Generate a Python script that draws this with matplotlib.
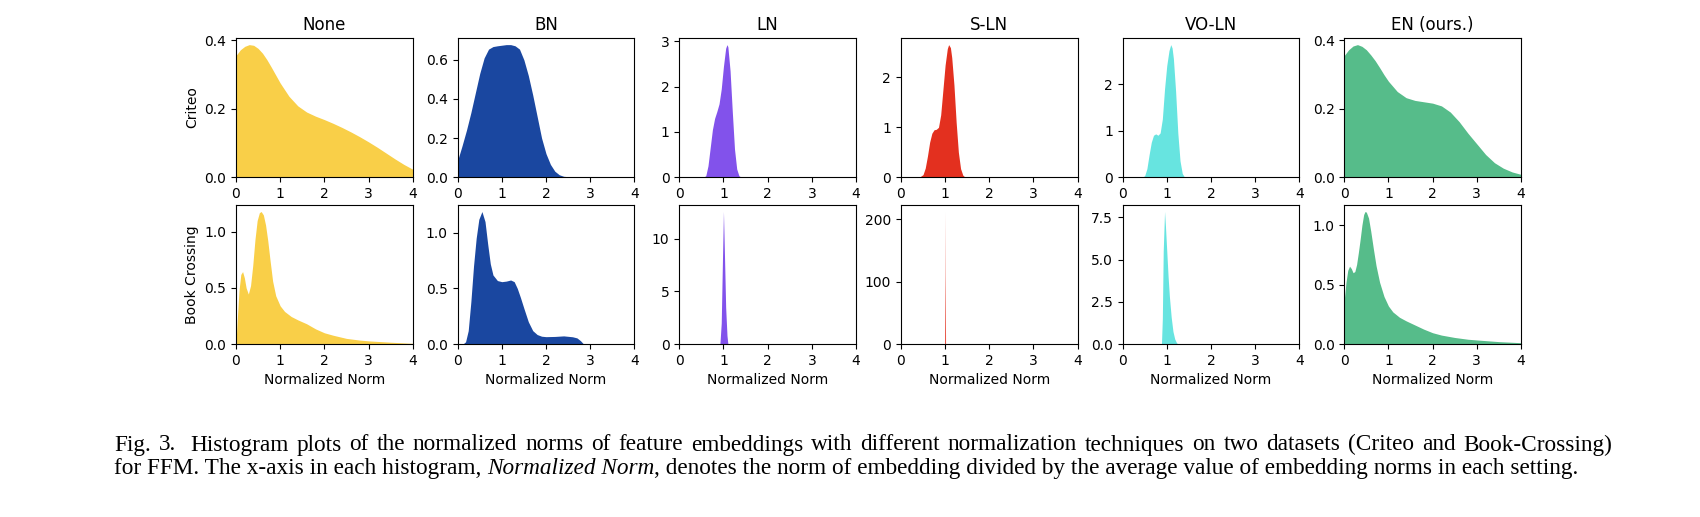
import matplotlib
matplotlib.use('Agg')
import matplotlib.pyplot as plt

# ---------------- data ----------------
methods = ["None", "BN", "LN", "S-LN", "VO-LN", "EN (ours.)"]
datasets = ["Criteo", "Book Crossing"]
colors = ["#F9CF48", "#1A47A0", "#8252EB", "#E3301F", "#67E4E0", "#56BC8A"]
xticks = [0, 1, 2, 3, 4]
yticks = [
    [[0, 0.2, 0.4], [0, 0.2, 0.4, 0.6], [0, 1, 2, 3], [0, 1, 2], [0, 1, 2], [0, 0.2, 0.4]],
    [[0, 0.5, 1.0], [0, 0.5, 1.0], [0, 5, 10], [0, 100, 200], [0, 2.5, 5.0, 7.5], [0, 0.5, 1.0]],
]

# Criteo row
none_criteo_x = [0, 0.1, 0.2, 0.3, 0.4, 0.5, 0.6, 0.7, 0.8, 0.9, 1.0, 1.2, 1.4, 1.6, 1.8, 2.0,
                 2.2, 2.4, 2.6, 2.8, 3.0, 3.2, 3.4, 3.6, 3.8, 4.0]
none_criteo_y = [0.355, 0.372, 0.382, 0.387, 0.385, 0.376, 0.362, 0.343, 0.321, 0.298, 0.275,
                 0.236, 0.208, 0.190, 0.178, 0.168, 0.157, 0.145, 0.132, 0.118, 0.103, 0.087,
                 0.070, 0.053, 0.037, 0.023]

bn_criteo_x = [0, 0.1, 0.2, 0.3, 0.4, 0.5, 0.6, 0.7, 0.8, 0.9, 1.0, 1.1, 1.2, 1.3, 1.4, 1.5,
               1.6, 1.7, 1.8, 1.9, 2.0, 2.1, 2.2, 2.3, 2.4, 2.6, 4.0]
bn_criteo_y = [0.085, 0.16, 0.24, 0.33, 0.43, 0.53, 0.61, 0.655, 0.668, 0.672, 0.675, 0.678,
               0.678, 0.672, 0.655, 0.60, 0.52, 0.42, 0.31, 0.20, 0.12, 0.065, 0.030, 0.012,
               0.004, 0.0, 0.0]

ln_criteo_x = [0.0, 0.55, 0.6, 0.65, 0.7, 0.75, 0.8, 0.85, 0.9, 0.95, 1.0, 1.05, 1.08, 1.1,
               1.15, 1.2, 1.25, 1.3, 1.35, 1.4, 4.0]
ln_criteo_y = [0, 0, 0.03, 0.25, 0.65, 1.05, 1.30, 1.45, 1.62, 1.95, 2.45, 2.85, 2.93, 2.88,
               2.35, 1.45, 0.62, 0.18, 0.03, 0, 0]

sln_criteo_x = [0, 0.42, 0.5, 0.55, 0.6, 0.65, 0.7, 0.75, 0.8, 0.85, 0.9, 0.95, 1.0, 1.05,
                1.08, 1.12, 1.15, 1.2, 1.25, 1.3, 1.35, 1.4, 1.45, 4.0]
sln_criteo_y = [0, 0, 0.05, 0.18, 0.42, 0.70, 0.88, 0.95, 0.96, 1.0, 1.25, 1.75, 2.25, 2.58,
                2.66, 2.60, 2.40, 1.85, 1.10, 0.50, 0.17, 0.04, 0, 0]

voln_criteo_x = [0, 0.45, 0.5, 0.55, 0.6, 0.65, 0.7, 0.75, 0.8, 0.85, 0.9, 0.95, 1.0, 1.05,
                 1.09, 1.12, 1.15, 1.2, 1.25, 1.3, 1.35, 1.4, 4.0]
voln_criteo_y = [0, 0, 0.03, 0.18, 0.48, 0.75, 0.90, 0.93, 0.90, 0.95, 1.25, 1.90, 2.40, 2.72,
                 2.85, 2.78, 2.55, 1.85, 0.95, 0.35, 0.08, 0, 0]

en_criteo_x = [0, 0.1, 0.2, 0.3, 0.4, 0.5, 0.6, 0.7, 0.8, 0.9, 1.0, 1.2, 1.4, 1.6, 1.8, 2.0,
               2.2, 2.4, 2.6, 2.8, 3.0, 3.2, 3.4, 3.6, 3.8, 4.0]
en_criteo_y = [0.355, 0.372, 0.383, 0.387, 0.382, 0.372, 0.357, 0.340, 0.320, 0.299, 0.280,
               0.250, 0.232, 0.224, 0.220, 0.216, 0.208, 0.190, 0.162, 0.128, 0.097, 0.066,
               0.042, 0.026, 0.015, 0.008]

# Book Crossing row
none_book_x = [0, 0.03, 0.07, 0.11, 0.15, 0.19, 0.23, 0.28, 0.33, 0.38, 0.43, 0.48, 0.53, 0.57,
               0.62, 0.67, 0.72, 0.77, 0.83, 0.9, 1.0, 1.1, 1.25, 1.4, 1.6, 1.8, 2.0, 2.2, 2.5,
               2.8, 3.0, 3.5, 4.0]
none_book_y = [0.0, 0.22, 0.48, 0.62, 0.645, 0.59, 0.50, 0.445, 0.52, 0.70, 0.93, 1.10, 1.17,
               1.18, 1.15, 1.06, 0.92, 0.75, 0.56, 0.43, 0.34, 0.29, 0.245, 0.215, 0.18, 0.135,
               0.10, 0.078, 0.05, 0.035, 0.028, 0.016, 0.006]

bn_book_x = [0, 0.12, 0.18, 0.24, 0.3, 0.36, 0.42, 0.48, 0.55, 0.62, 0.68, 0.74, 0.8, 0.9, 1.0,
             1.1, 1.2, 1.28, 1.35, 1.42, 1.5, 1.6, 1.7, 1.8, 1.9, 2.0, 2.2, 2.4, 2.6, 2.7, 2.78,
             2.85, 4.0]
bn_book_y = [0, 0, 0.02, 0.12, 0.38, 0.70, 0.95, 1.12, 1.19, 1.10, 0.90, 0.72, 0.62, 0.57,
             0.56, 0.565, 0.575, 0.56, 0.50, 0.42, 0.32, 0.20, 0.12, 0.085, 0.07, 0.066, 0.068,
             0.073, 0.065, 0.055, 0.03, 0.0, 0.0]

ln_book_x = [0, 0.92, 0.95, 0.98, 1.0, 1.02, 1.05, 1.08, 1.1, 4.0]
ln_book_y = [0, 0, 2.0, 8.5, 12.6, 9.0, 3.5, 0.8, 0, 0]

sln_book_x = [0, 0.99, 0.997, 1.0, 1.003, 1.01, 4.0]
sln_book_y = [0, 0, 110, 212, 110, 0, 0]

voln_book_x = [0, 0.88, 0.9, 0.92, 0.95, 0.97, 1.0, 1.03, 1.06, 1.1, 1.14, 1.18, 1.22, 1.25, 4.0]
voln_book_y = [0, 0, 1.5, 5.5, 7.85, 7.0, 5.5, 4.0, 2.8, 1.6, 0.75, 0.3, 0.08, 0, 0]

en_book_x = [0, 0.04, 0.08, 0.12, 0.16, 0.2, 0.24, 0.28, 0.32, 0.36, 0.4, 0.44, 0.47, 0.5, 0.55,
             0.6, 0.66, 0.72, 0.8, 0.9, 1.0, 1.1, 1.25, 1.4, 1.6, 1.8, 2.0, 2.2, 2.5, 2.8, 3.0,
             3.5, 4.0]
en_book_y = [0.37, 0.52, 0.62, 0.655, 0.635, 0.60, 0.61, 0.67, 0.77, 0.88, 1.0, 1.09, 1.115,
             1.11, 1.06, 0.95, 0.80, 0.66, 0.52, 0.40, 0.32, 0.27, 0.225, 0.195, 0.16, 0.125,
             0.095, 0.075, 0.055, 0.04, 0.034, 0.02, 0.011]

curves = [
    [(none_criteo_x, none_criteo_y), (bn_criteo_x, bn_criteo_y), (ln_criteo_x, ln_criteo_y),
     (sln_criteo_x, sln_criteo_y), (voln_criteo_x, voln_criteo_y), (en_criteo_x, en_criteo_y)],
    [(none_book_x, none_book_y), (bn_book_x, bn_book_y), (ln_book_x, ln_book_y),
     (sln_book_x, sln_book_y), (voln_book_x, voln_book_y), (en_book_x, en_book_y)],
]

caption_line1 = ("Fig. 3.  Histogram plots of the normalized norms of feature embeddings with "
                 "different normalization techniques on two datasets (Criteo and Book-Crossing)")
caption_line2 = [("for FFM. The x-axis in each histogram,", "normal"),
                 ("Normalized Norm", "italic"),
                 (", denotes the norm of embedding divided by the average value of embedding "
                  "norms in each setting.", "normal")]
caption_line2_space_after = [True, False, False]

# ---------------- figure ----------------
W, H = 1700, 517
fig = plt.figure(figsize=(W / 100, H / 100), dpi=100)
gs = fig.add_gridspec(2, 6, left=0.1388, right=0.8947, top=0.9265, bottom=0.3346,
                      wspace=0.254, hspace=0.2)

for r in range(2):
    for c in range(6):
        ax = fig.add_subplot(gs[r, c])
        x, y = curves[r][c]
        ax.fill_between(x, y, 0, color=colors[c], linewidth=0)
        ax.set_xlim(0, 4)
        ax.set_xticks(xticks)
        ax.set_yticks(yticks[r][c])
        ax.set_ylim(0, max(y) * 1.05)
        ax.tick_params(labelsize=10)
        if r == 0:
            ax.set_title(methods[c], fontsize=12)
        else:
            ax.set_xlabel("Normalized Norm", fontsize=10)
        if c == 0:
            ax.set_ylabel(datasets[r], fontsize=10)

# ---------------- caption ----------------
renderer = fig.canvas.get_renderer()
FAM = "Liberation Serif"


def twidth(s, size, style="normal"):
    t = fig.text(0, 0, s, fontsize=size, family=FAM, style=style)
    w = t.get_window_extent(renderer).width
    t.remove()
    return w


def space_w(size, style="normal"):
    return twidth("a a", size, style) - twidth("aa", size, style)


x0 = 114.0
line2_target = 1576.0 - x0
ref = 10.0
nat = 0.0
for (seg, st), spa in zip(caption_line2, caption_line2_space_after):
    nat += twidth(seg, ref, st) + (space_w(ref) if spa else 0.0)
fs = ref * line2_target / nat

y1_base = 450.5
y2_base = 474.0

# line 1: justified
words1 = caption_line1.split()
ww = [twidth(w, fs) for w in words1]
weights = [1.8 if words1[i] == "3." else 1.0 for i in range(len(words1) - 1)]
gap_unit = (1612.0 - x0 - sum(ww)) / sum(weights)
xp = x0
for i, w in enumerate(words1):
    fig.text(xp / W, 1 - y1_base / H, w, fontsize=fs, family=FAM, va="baseline", ha="left")
    xp += ww[i]
    if i < len(weights):
        xp += gap_unit * weights[i]

# line 2: natural spacing, mixed italic
xp = x0
sp = space_w(fs)
for (seg, st), spa in zip(caption_line2, caption_line2_space_after):
    fig.text(xp / W, 1 - y2_base / H, seg, fontsize=fs, family=FAM, style=st,
             va="baseline", ha="left")
    xp += twidth(seg, fs, st) + (sp if spa else 0.0)

fig.savefig("out.png", dpi=100)
